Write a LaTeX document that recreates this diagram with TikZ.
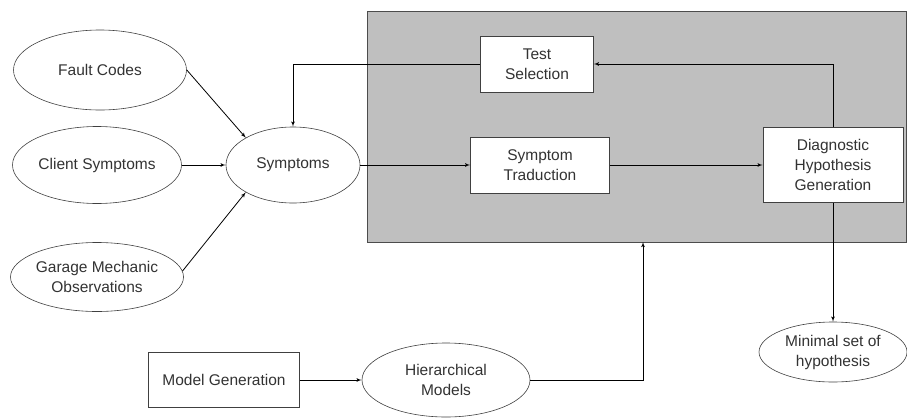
\documentclass[tikz,border=0pt]{standalone}
\usepackage{fontspec}
\setmainfont{Liberation Sans}
\usepackage{tikz}
\usetikzlibrary{arrows,shapes.geometric}

\begin{document}
\begin{tikzpicture}[x=1pt,y=-1pt,->,>=latex',line width=0.8pt,
  every node/.style={font=\fontsize{15.5}{20}\selectfont,text=black!80,align=center},
  oval node/.style={ellipse,draw=black!75,line width=0.6pt,fill=white,inner sep=0pt},
  main node/.style={rectangle,draw=black!75,line width=0.6pt,fill=white,inner sep=0pt}]

  \useasboundingbox (0,0) rectangle (907,418);

  % grey engine panel
  \node[rectangle,draw=black!70,line width=1pt,fill=black!25,minimum width=539pt,
    minimum height=231pt,inner sep=0pt] (engine) at (636.5,126.5) {};

  \node[oval node,minimum width=173pt,minimum height=80pt] (fault) at (100,70) {Fault Codes};
  \node[oval node,minimum width=169pt,minimum height=77pt] (client) at (97,165) {Client Symptoms};
  \node[oval node,minimum width=167pt,minimum height=69pt] (garage) at (97,277) {Garage Mechanic\\Observations};
  \node[oval node,minimum width=134pt,minimum height=76pt] (sym) at (293,165) {Symptoms};
  \node[main node,minimum width=113pt,minimum height=56pt] (test) at (537,64) {Test\\Selection};
  \node[main node,minimum width=139pt,minimum height=56pt] (trad) at (540,165) {Symptom\\Traduction};
  \node[main node,minimum width=140pt,minimum height=75pt] (diag) at (833,165) {Diagnostic\\Hypothesis\\Generation};
  \node[oval node,minimum width=148pt,minimum height=60pt] (minset) at (833,352) {Minimal set of\\hypothesis};
  \node[main node,minimum width=151pt,minimum height=55pt] (model) at (224,380) {Model Generation};
  \node[oval node,minimum width=168pt,minimum height=74pt] (hier) at (446,380) {Hierarchical\\Models};
  \coordinate (entry) at (643,242);

  \path
    (fault.east) edge (sym.150)
    (client) edge (sym)
    (garage.4) edge (sym.210)
    (sym) edge (trad)
    (trad) edge (diag)
    (diag) edge (minset)
    (model) edge (hier);

  \draw (diag.north) |- (test.east);
  \draw (test.west) -| (sym.north);
  \draw (hier.east) -| (entry);

\end{tikzpicture}
\end{document}
